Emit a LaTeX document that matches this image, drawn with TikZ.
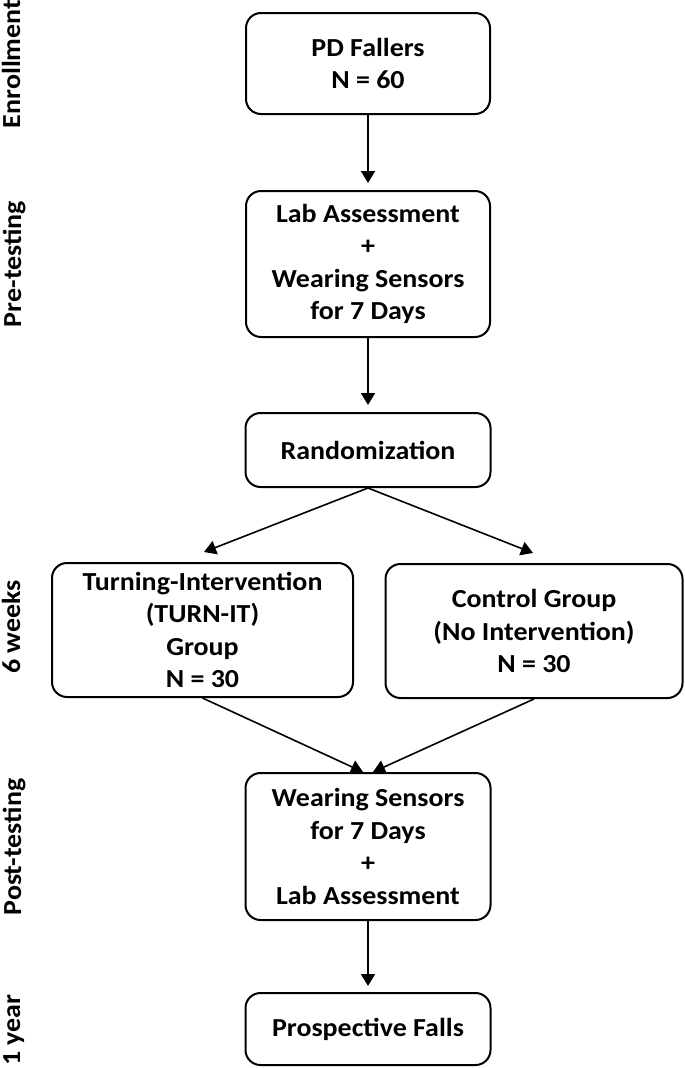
\documentclass[tikz,border=0pt]{standalone}
\usepackage{fontspec}
\setmainfont{Carlito}[FakeStretch=1.075]
\usetikzlibrary{arrows.meta}
\begin{document}
\begin{tikzpicture}[x=1pt,y=-1pt,
  box/.style={draw, line width=2pt, rounded corners=15pt, align=center, inner sep=0pt,
    font=\fontsize{26}{32.5}\selectfont\bfseries},
  phase/.style={rotate=90, anchor=base, inner sep=0pt, font=\fontsize{26}{32}\selectfont\bfseries},
  arr/.style={line width=1.6pt, -{Triangle[length=12pt,width=14pt]}}]
\useasboundingbox (0,0) rectangle (685,1068);
\node[box, minimum width=244pt, minimum height=101pt] (pd) at (368,63.5) {PD Fallers\\N = 60};
\node[box, minimum width=244pt, minimum height=146pt] (lab) at (368,264) {Lab Assessment\\+\\Wearing Sensors\\for 7 Days};
\node[box, minimum width=245pt, minimum height=74pt] (rand) at (368,450) {Randomization};
\node[box, minimum width=301pt, minimum height=134pt] (turn) at (202.5,630) {Turning-Intervention\\(TURN-IT)\\Group\\N = 30};
\node[box, minimum width=297pt, minimum height=134pt] (ctrl) at (534,631) {Control Group\\(No Intervention)\\N = 30};
\node[box, minimum width=245pt, minimum height=147pt] (post) at (368,846.5) {Wearing Sensors\\for 7 Days\\+\\Lab Assessment};
\node[box, minimum width=245pt, minimum height=72pt] (pros) at (368,1029) {Prospective Falls};

\node[phase] (l1) at (20,64) {Enrollment};
\node[phase] (l2) at (21,264) {Pre-testing};
\node[phase] (l3) at (20,627) {6 weeks};
\node[phase] (l4) at (21,847) {Post-testing};
\node[phase] (l5) at (20,1030) {1 year};

\draw[arr, shorten >=7pt] (pd.south) -- (lab.north);
\draw[arr, shorten >=7pt] (lab.south) -- (rand.north);
\draw[arr] (rand.south) -- ([xshift=1.5pt,yshift=10pt]turn.north);
\draw[arr] (rand.south) -- ([xshift=-1pt,yshift=10pt]ctrl.north);
\draw[arr] (turn.south) -- ([xshift=-5pt]post.north);
\draw[arr] (ctrl.south) -- ([xshift=5pt]post.north);
\draw[arr, shorten >=6pt] (post.south) -- (pros.north);
\end{tikzpicture}
\end{document}
